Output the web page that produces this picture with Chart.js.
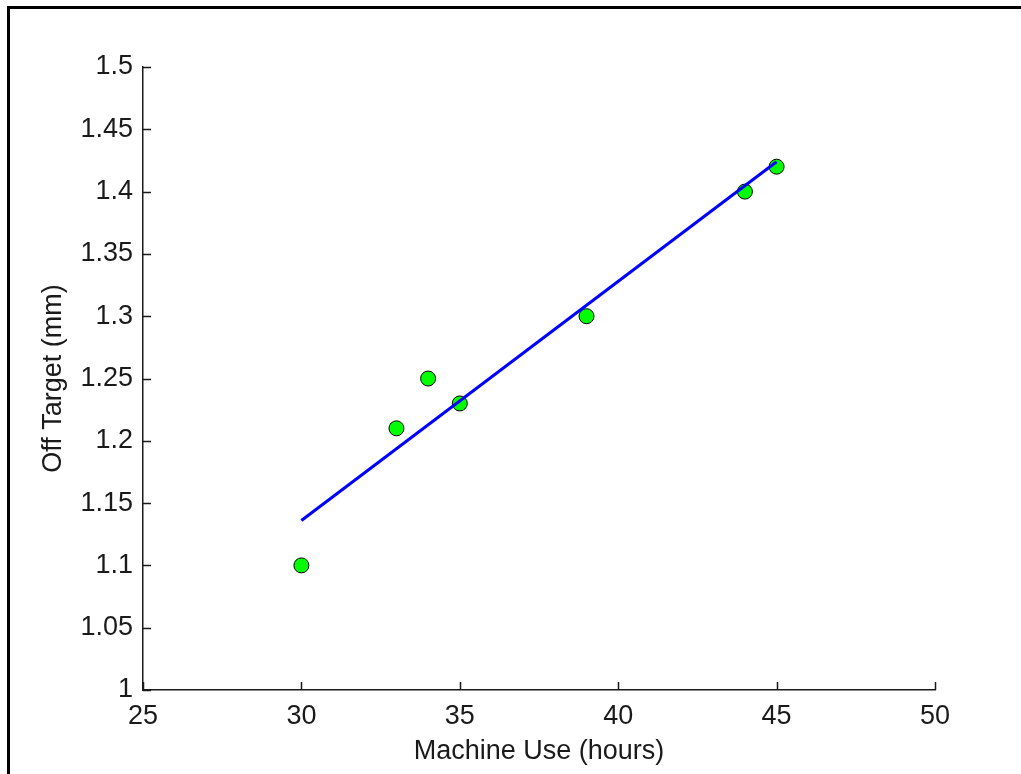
<!DOCTYPE html>
<html>
<head>
<meta charset="utf-8">
<script src="https://cdn.jsdelivr.net/npm/chart.js@4.4.1/dist/chart.umd.min.js"></script>
<style>
  html, body { margin: 0; padding: 0; background: #fff; overflow: hidden; }
  #frame { position: absolute; left: 7px; top: 6px; width: 2000px; height: 2000px;
           border-left: 3px solid #000; border-top: 3px solid #000; }
  #chart { position: absolute; left: 0; top: 0; }
</style>
</head>
<body>
<div id="frame"></div>
<canvas id="chart" width="1021" height="774"></canvas>
<script>
// ─── Data ─────────────────────────────────────────────────────
const hoursUsed = [30, 33, 34, 35, 39, 44, 45];
const offTarget = [1.10, 1.21, 1.25, 1.23, 1.30, 1.40, 1.42];

// least-squares fit line, end points
const fitX = [30, 45];
const fitY = [1.136, 1.424];

const xTicks = [25, 30, 35, 40, 45, 50];
const yTicks = [1, 1.05, 1.1, 1.15, 1.2, 1.25, 1.3, 1.35, 1.4, 1.45, 1.5];

// ─── Styling ──────────────────────────────────────────────────
const FONT = "'Liberation Sans', Arial, Helvetica, sans-serif";
const INK  = '#1a1a1a';
const TICK_LEN = 8;

// MATLAB-style inward tick marks
const inwardTicks = {
  id: 'inwardTicks',
  afterDatasetsDraw(chart) {
    const { ctx, chartArea, scales } = chart;
    ctx.save();
    ctx.strokeStyle = INK;
    ctx.lineWidth = 1.5;
    ctx.beginPath();
    scales.x.ticks.forEach(t => {
      const px = Math.round(scales.x.getPixelForValue(t.value)) + 0.5;
      ctx.moveTo(px, chartArea.bottom);
      ctx.lineTo(px, chartArea.bottom - TICK_LEN);
    });
    scales.y.ticks.forEach(t => {
      const py = Math.round(scales.y.getPixelForValue(t.value)) + 0.5;
      ctx.moveTo(chartArea.left, py);
      ctx.lineTo(chartArea.left + TICK_LEN, py);
    });
    ctx.stroke();
    ctx.restore();
  },
};

const fmt = v => String(Number(v.toFixed(2)));

new Chart(document.getElementById('chart').getContext('2d'), {
  type: 'scatter',
  data: {
    datasets: [
      {
        label: 'Fit',
        type: 'line',
        data: fitX.map((x, i) => ({ x, y: fitY[i] })),
        borderColor: '#0000ff',
        borderWidth: 3,
        pointRadius: 0,
        showLine: true,
        fill: false,
        order: 0,
      },
      {
        label: 'Measured',
        data: hoursUsed.map((x, i) => ({ x, y: offTarget[i] })),
        backgroundColor: '#00ff00',
        borderColor: '#000',
        borderWidth: 1,
        pointRadius: 7.5,
        order: 1,
      },
    ],
  },
  options: {
    responsive: false,
    animation: false,
    devicePixelRatio: 1,
    layout: { padding: { left: 0, top: 67, right: 86, bottom: 0 } },
    plugins: { legend: { display: false }, tooltip: { enabled: false } },
    scales: {
      x: {
        type: 'linear',
        min: 25, max: 50,
        afterBuildTicks: s => { s.ticks = xTicks.map(value => ({ value })); },
        afterFit: s => { s.height = 84; },
        grid: { display: false },
        border: { display: true, color: INK, width: 1.5 },
        ticks: {
          callback: fmt, color: INK, padding: 2, maxRotation: 0, autoSkip: false,
          font: { family: FONT, size: 27 },
        },
        title: {
          display: true, text: 'Machine Use (hours)', color: INK,
          font: { family: FONT, size: 27 }, padding: { top: 0, bottom: 6 },
        },
      },
      y: {
        type: 'linear',
        min: 1, max: 1.5,
        afterBuildTicks: s => { s.ticks = yTicks.map(value => ({ value })); },
        afterFit: s => { s.width = 143; },
        grid: { display: false },
        border: { display: true, color: INK, width: 1.5 },
        ticks: {
          callback: fmt, color: INK, padding: 2, autoSkip: false,
          font: { family: FONT, size: 27 },
        },
        title: {
          display: true, text: 'Off Target (mm)', color: INK,
          font: { family: FONT, size: 27 }, padding: { top: 37, bottom: 0 },
        },
      },
    },
  },
  plugins: [inwardTicks],
});
</script>
</body>
</html>
